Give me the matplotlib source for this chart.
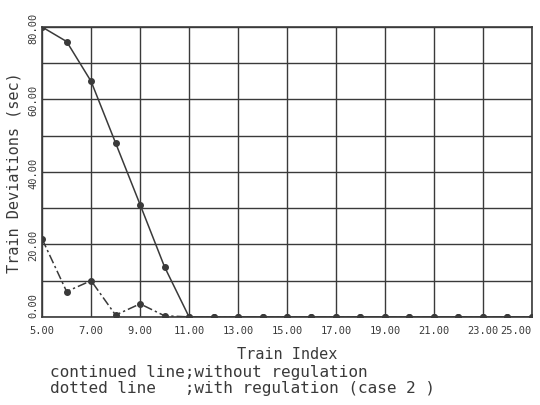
import matplotlib
matplotlib.use('Agg')
import matplotlib.pyplot as plt
import numpy as np

# train index and deviations (sec)
trains = list(range(5, 26))
without_reg = [80, 76, 65, 48, 31, 13.8] + [0] * 15
with_reg = [21.5, 7, 10, 0.5, 3.6, 0.3] + [0] * 15

xticks = [5, 7, 9, 11, 13, 15, 17, 19, 21, 23, 25]
yticks = [0, 20, 40, 60, 80]

plt.rcParams['font.family'] = 'DejaVu Sans Mono'
ink = '#3a3a3a'

fig = plt.figure(figsize=(5.4, 4.06), dpi=100)
ax = fig.add_axes([0.078, 0.217, 0.907, 0.714])

ax.plot(trains, without_reg, '-', color=ink, lw=1.1, marker='o', ms=4, zorder=3)
ax.plot(trains, with_reg, linestyle=(0, (6, 2, 1.5, 2)), color=ink, lw=1.1,
        marker='o', ms=4, zorder=3)

ax.set_xlim(5, 25)
ax.set_ylim(0, 80)
ax.set_xticks(xticks)
ax.set_xticklabels(['%.2f' % v for v in xticks], fontsize=7.5, color=ink)
ax.set_yticks(yticks)
ax.set_yticks([10, 30, 50, 70], minor=True)
ax.set_yticklabels(['%.2f' % v for v in yticks], fontsize=7.5, color=ink,
                   rotation=90, va='center')
ax.tick_params(axis='x', which='both', length=0, pad=6)
ax.tick_params(axis='y', which='both', length=0, pad=3)
ax.grid(True, which='both', color=ink, lw=1.0)
for s in ax.spines.values():
    s.set_color(ink)
    s.set_linewidth(1.2)

# keep corner labels apart / inside the figure
ax.get_yticklabels()[0].set_va('bottom')
ax.get_xticklabels()[-1].set_ha('right')

ax.set_xlabel('Train Index', fontsize=11, color=ink, labelpad=8)
ax.set_ylabel('Train Deviations (sec)', fontsize=11, color=ink, labelpad=5)

fig.text(0.092, 0.072, 'continued line;without regulation', fontsize=11.5, color=ink)
fig.text(0.092, 0.033, 'dotted line   ;with regulation (case 2 )', fontsize=11.5, color=ink)

fig.savefig('out.png', dpi=100)
